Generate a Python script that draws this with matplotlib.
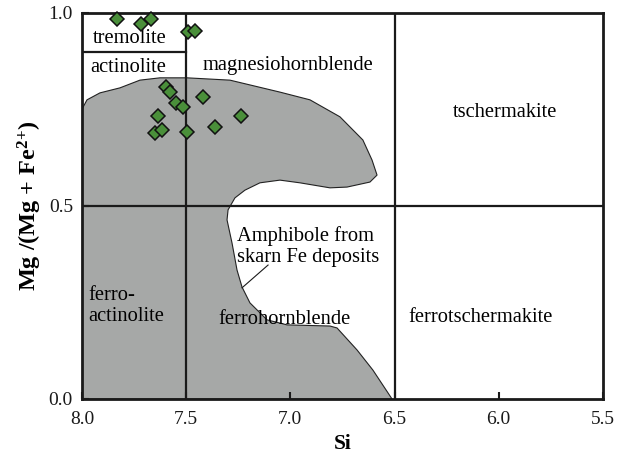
import matplotlib
matplotlib.use('Agg')
import matplotlib.pyplot as plt
from matplotlib.patches import Polygon

plt.rcParams['font.family'] = ['Liberation Serif', 'DejaVu Serif']
plt.rcParams['mathtext.fontset'] = 'custom'
plt.rcParams['mathtext.rm'] = 'Liberation Serif:bold'
plt.rcParams['mathtext.bf'] = 'Liberation Serif:bold'
plt.rcParams['mathtext.it'] = 'Liberation Serif:bold:italic'

# field of amphibole from skarn Fe deposits (Si, Mg#)
field_si = [8.0, 7.995, 7.976, 7.914, 7.818, 7.722, 7.626, 7.496, 7.290, 7.050,
            6.906, 6.762, 6.652, 6.608, 6.584, 6.618, 6.728, 6.810, 6.954, 7.050,
            7.146, 7.218, 7.266, 7.299, 7.304, 7.280, 7.256, 7.232, 7.194, 7.112,
            7.016, 6.810, 6.776, 6.680, 6.604, 6.512, 8.0]
field_mg = [0.750, 0.756, 0.775, 0.793, 0.806, 0.826, 0.832, 0.832, 0.826, 0.795,
            0.775, 0.731, 0.671, 0.619, 0.580, 0.562, 0.549, 0.547, 0.560, 0.567,
            0.560, 0.541, 0.521, 0.490, 0.464, 0.404, 0.334, 0.290, 0.249, 0.205,
            0.192, 0.189, 0.184, 0.127, 0.075, 0.0, 0.0]

# samples
si = [7.833, 7.718, 7.670, 7.490, 7.456, 7.597, 7.578, 7.418, 7.549, 7.517,
      7.634, 7.238, 7.363, 7.650, 7.616, 7.495]
mg = [0.984, 0.971, 0.985, 0.950, 0.954, 0.809, 0.796, 0.783, 0.768, 0.757,
      0.734, 0.734, 0.705, 0.688, 0.697, 0.692]

xticks = [8.0, 7.5, 7.0, 6.5, 6.0, 5.5]
yticks = [0.0, 0.5, 1.0]

fig = plt.figure(figsize=(6.28, 4.62), dpi=100)
ax = fig.add_axes([0.1306, 0.1364, 0.8294, 0.8355])

ax.add_patch(Polygon(list(zip(field_si, field_mg)), closed=True,
                     facecolor='#a6a8a7', edgecolor='#222222', lw=0.8, zorder=1))

# classification boundaries
ax.plot([7.5, 7.5], [0, 1], color='#1a1a1a', lw=1.6, zorder=2)
ax.plot([6.5, 6.5], [0, 1], color='#1a1a1a', lw=1.6, zorder=2)
ax.plot([8.0, 5.5], [0.5, 0.5], color='#1a1a1a', lw=1.6, zorder=2)
ax.plot([8.0, 7.5], [0.9, 0.9], color='#1a1a1a', lw=1.6, zorder=2)

ax.plot(si, mg, 'D', ms=6.8, mfc='#4a8f3a', mec='#111111', mew=1.1, zorder=4,
        clip_on=False)

fs = 14.8
ax.text(7.770, 0.933, 'tremolite', fontsize=fs, ha='center', va='center')
ax.text(7.779, 0.858, 'actinolite', fontsize=fs, ha='center', va='center')
ax.text(7.012, 0.865, 'magnesiohornblende', fontsize=fs, ha='center', va='center')
ax.text(5.970, 0.741, 'tschermakite', fontsize=fs, ha='center', va='center')
ax.text(7.256, 0.395, 'Amphibole from\nskarn Fe deposits', fontsize=fs,
        ha='left', va='center', linespacing=1.2)
ax.text(7.971, 0.241, 'ferro-\nactinolite', fontsize=fs, ha='left', va='center',
        linespacing=1.1)
ax.text(7.026, 0.207, 'ferrohornblende', fontsize=fs, ha='center', va='center')
ax.text(6.085, 0.212, 'ferrotschermakite', fontsize=fs, ha='center', va='center')
ax.plot([7.107, 7.232], [0.347, 0.288], color='#1a1a1a', lw=0.8, zorder=3)

ax.set_xlim(8.0, 5.5)
ax.set_ylim(0.0, 1.0)
ax.set_xticks(xticks)
ax.set_xticklabels([f'{t:.1f}' for t in xticks])
ax.set_yticks(yticks)
ax.set_yticklabels([f'{t:.1f}' for t in yticks])
ax.tick_params(direction='in', length=5, width=1.5, labelsize=14,
               colors='#1a1a1a')
ax.tick_params(axis='x', pad=9)
ax.tick_params(axis='y', pad=6.5)
for s in ax.spines.values():
    s.set_linewidth(2)
    s.set_color('#1a1a1a')

ax.set_xlabel('Si', fontsize=15.5, fontweight='bold', labelpad=4)
ax.set_ylabel(r'Mg /(Mg + Fe$^{2{+}}$)', fontsize=17.5, fontweight='bold',
              labelpad=3)

fig.savefig('out.png', dpi=100, facecolor='white')
